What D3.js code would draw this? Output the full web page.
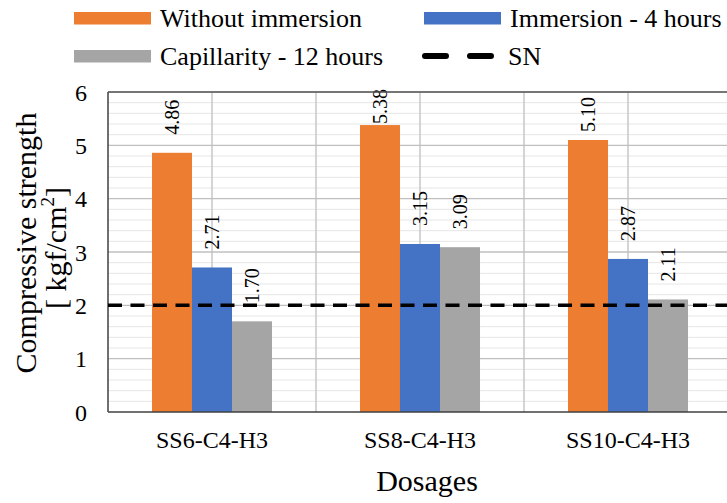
<!DOCTYPE html>
<html>
<head>
<meta charset="utf-8">
<script src="https://cdn.jsdelivr.net/npm/d3@7"></script>
<style>
  html, body { margin: 0; padding: 0; background: #fff; }
  svg { display: block; font-family: "Liberation Serif", "Times New Roman", serif; }
  text { font-family: "Liberation Serif", "Times New Roman", serif; }
</style>
</head>
<body>
<svg id="chart" width="727" height="503"></svg>
<script>
// ---- data ----
const categories = ["SS6-C4-H3", "SS8-C4-H3", "SS10-C4-H3"];
const seriesNames = ["Without immersion", "Immersion - 4 hours", "Capillarity - 12 hours"];
const withoutImmersion = [4.86, 5.38, 5.10];
const immersion4h = [2.71, 3.15, 2.87];
const capillarity12h = [1.70, 3.09, 2.11];
const snLabel = "SN";
const snValue = 2;
const yTickValues = [0, 1, 2, 3, 4, 5, 6];
const seriesColors = ["#ED7D31", "#4472C4", "#A5A5A5"];

const seriesValues = [withoutImmersion, immersion4h, capillarity12h];

// ---- layout ----
const svg = d3.select("#chart");
const W = 727, H = 503;
const plot = { left: 108, top: 92, right: 732, bottom: 412 };
const FONT = "Liberation Serif, Times New Roman, serif";

svg.append("rect").attr("width", W).attr("height", H).attr("fill", "#fff");

const x = d3.scaleBand().domain(categories)
  .range([plot.left, plot.right]).paddingInner(0.423).paddingOuter(0.2115);
const xs = d3.scaleBand().domain(d3.range(seriesNames.length))
  .range([0, x.bandwidth()]).padding(0);
const y = d3.scaleLinear().domain([0, 6]).range([plot.bottom, plot.top]);

const g = svg.append("g");

// minor horizontal gridlines
g.selectAll(".minor").data(y.ticks(30).filter(t => Math.abs(t - Math.round(t)) > 1e-6))
  .join("line")
  .attr("x1", plot.left).attr("x2", plot.right)
  .attr("y1", d => y(d)).attr("y2", d => y(d))
  .attr("stroke", "#e6e6e6").attr("stroke-width", 1);

// major horizontal gridlines
g.selectAll(".major").data(yTickValues.filter(t => t > 0))
  .join("line")
  .attr("x1", plot.left).attr("x2", plot.right)
  .attr("y1", d => y(d)).attr("y2", d => y(d))
  .attr("stroke", "#bfbfbf").attr("stroke-width", 1.3);

// vertical gridlines: category centers and boundaries
const centers = categories.map(c => x(c) + x.bandwidth() / 2);
const boundaries = categories.slice(1).map((c, i) => (centers[i] + centers[i + 1]) / 2);
g.selectAll(".vgrid").data(centers.concat(boundaries))
  .join("line")
  .attr("x1", d => d).attr("x2", d => d)
  .attr("y1", plot.top).attr("y2", plot.bottom)
  .attr("stroke", "#bfbfbf").attr("stroke-width", 1.3);

// bars
const groups = g.selectAll(".grp").data(categories).join("g")
  .attr("transform", c => `translate(${x(c)},0)`);
groups.each(function(c, ci) {
  const sel = d3.select(this);
  seriesValues.forEach((vals, si) => {
    sel.append("rect")
      .attr("x", xs(si)).attr("width", xs.bandwidth())
      .attr("y", y(vals[ci])).attr("height", y(0) - y(vals[ci]))
      .attr("fill", seriesColors[si]);
  });
});

// plot border / axes
g.append("line").attr("x1", plot.left).attr("x2", W).attr("y1", plot.top).attr("y2", plot.top)
  .attr("stroke", "#595959").attr("stroke-width", 1.5);
g.append("line").attr("x1", plot.left).attr("x2", plot.left).attr("y1", plot.top).attr("y2", plot.bottom)
  .attr("stroke", "#404040").attr("stroke-width", 1.5);
g.append("line").attr("x1", plot.left).attr("x2", W).attr("y1", plot.bottom).attr("y2", plot.bottom)
  .attr("stroke", "#404040").attr("stroke-width", 1.5);

// SN dashed line
g.append("line")
  .attr("x1", plot.left).attr("x2", W + 5)
  .attr("y1", y(snValue)).attr("y2", y(snValue))
  .attr("stroke", "#000").attr("stroke-width", 3.5)
  .attr("stroke-dasharray", "14,8.5");

// data labels
const fmt = d3.format(".2f");
groups.each(function(c, ci) {
  const sel = d3.select(this);
  seriesValues.forEach((vals, si) => {
    const top = y(vals[ci]);
    const start = Math.min(top - 1, Math.max(top - 18, plot.top + 40));
    const cx = xs(si) + xs.bandwidth() / 2;
    sel.append("text")
      .attr("transform", `translate(${cx},${start}) rotate(-90)`)
      .attr("dy", "0.35em")
      .attr("text-anchor", "start")
      .attr("font-family", FONT)
      .attr("font-size", 20)
      .attr("fill", "#000")
      .text(fmt(vals[ci]));
  });
});

// y axis ticks
const yAxis = d3.axisLeft(y).tickValues(yTickValues).tickSize(0).tickPadding(0).tickFormat(d3.format("d"));
const ya = svg.append("g").attr("transform", `translate(${plot.left - 21},0)`).call(yAxis);
ya.attr("font-family", FONT);
ya.select(".domain").remove();
ya.selectAll("text").attr("font-size", 24).attr("font-family", FONT).attr("fill", "#000").attr("dy", "0.34em");

// x axis labels
const xAxis = d3.axisBottom(x).tickSize(0).tickPadding(0);
const xa = svg.append("g").attr("transform", `translate(0,${plot.bottom + 19})`).call(xAxis);
xa.attr("font-family", FONT);
xa.select(".domain").remove();
xa.selectAll("text").attr("font-size", 24).attr("font-family", FONT).attr("fill", "#000").attr("dy", "0.7em");

// axis titles
svg.append("text").attr("x", 427).attr("y", 491).attr("text-anchor", "middle")
  .attr("font-family", FONT).attr("font-size", 30).text("Dosages");
const yt = svg.append("text").attr("transform", "translate(36,243) rotate(-90)")
  .attr("text-anchor", "middle").attr("font-family", FONT).attr("font-size", 30);
yt.append("tspan").attr("x", 0).attr("y", 0).text("Compressive strength");
const l2 = svg.append("text").attr("transform", "translate(66,248) rotate(-90)")
  .attr("text-anchor", "middle").attr("font-family", FONT).attr("font-size", 30);
l2.append("tspan").text("[ kgf/cm");
l2.append("tspan").attr("font-size", 19).attr("dy", -12).text("2");
l2.append("tspan").attr("dy", 12).text("]");

// legend
const legendItems = [
  { name: seriesNames[0], color: seriesColors[0], type: "rect", x: 74, y: 18 },
  { name: seriesNames[1], color: seriesColors[1], type: "rect", x: 424, y: 18 },
  { name: seriesNames[2], color: seriesColors[2], type: "rect", x: 74, y: 56 },
  { name: snLabel, color: "#000", type: "dash", x: 422, y: 56 }
];
const lg = svg.append("g").attr("font-family", FONT);
legendItems.forEach(it => {
  if (it.type === "rect") {
    lg.append("rect").attr("x", it.x).attr("y", it.y - 6).attr("width", 77).attr("height", 12.5).attr("fill", it.color);
  } else {
    lg.append("line").attr("x1", it.x + 3).attr("x2", it.x + 72).attr("y1", it.y).attr("y2", it.y)
      .attr("stroke", it.color).attr("stroke-width", 6).attr("stroke-linecap", "round")
      .attr("stroke-dasharray", "21,24");
  }
  lg.append("text").attr("x", it.x + 86).attr("y", it.y + 9)
    .attr("font-family", FONT).attr("font-size", 26).text(it.name);
});
</script>
</body>
</html>
